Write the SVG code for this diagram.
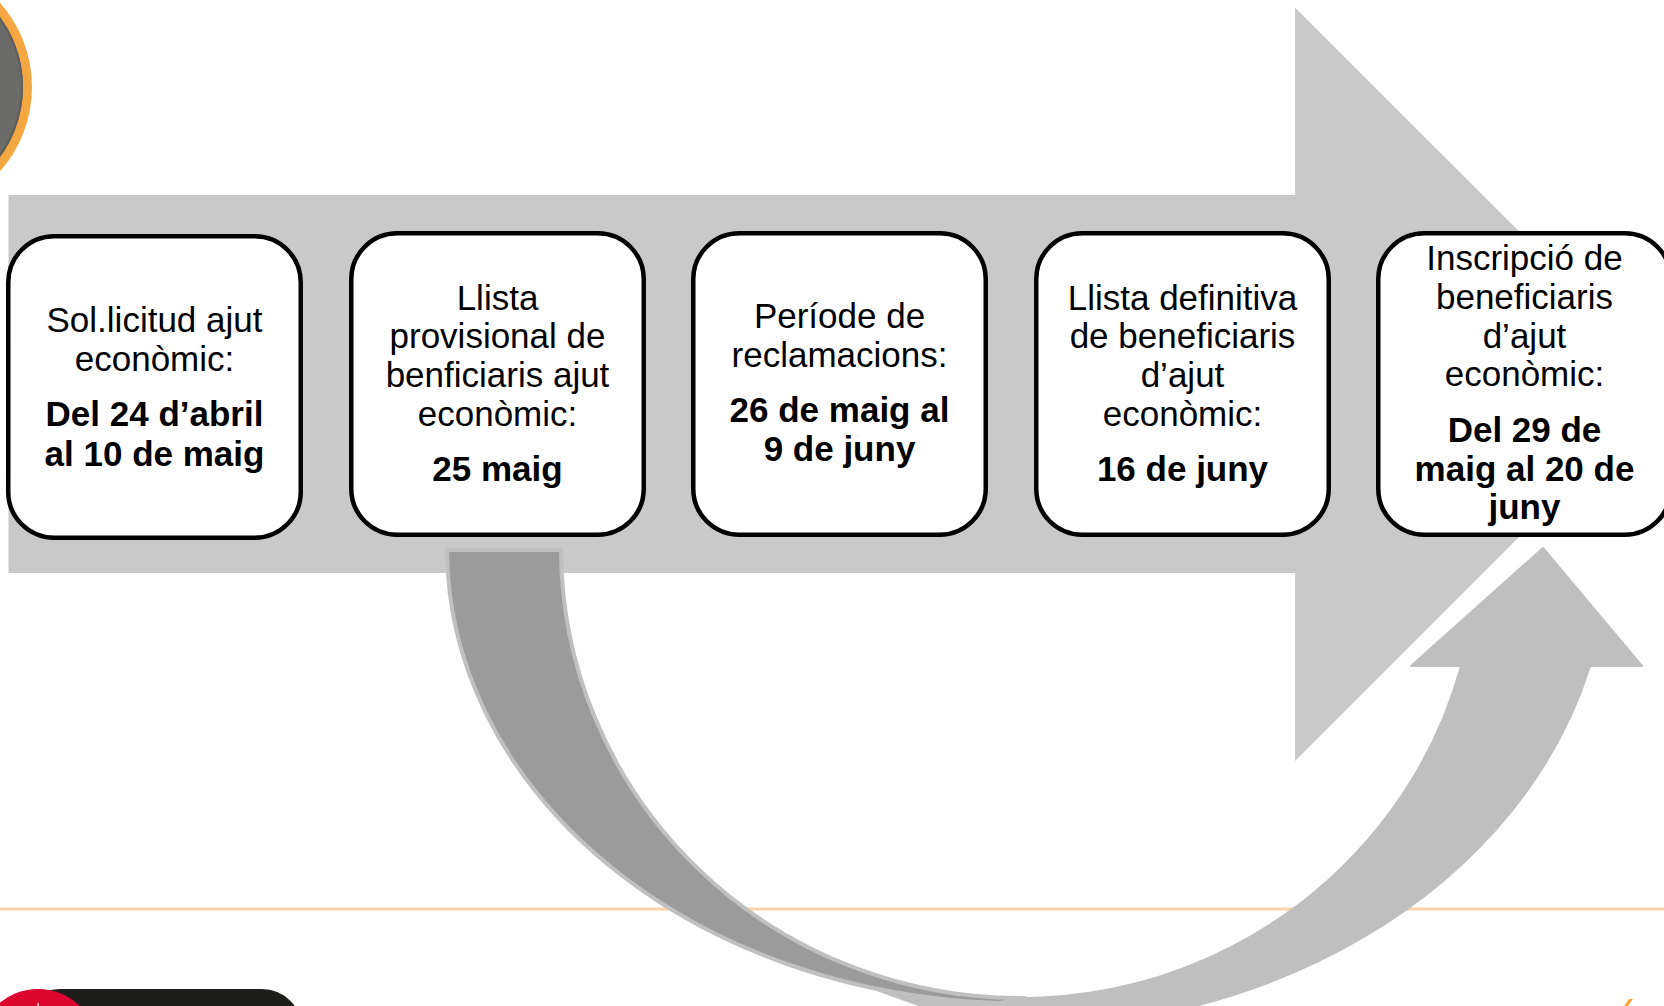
<svg xmlns="http://www.w3.org/2000/svg" width="1664" height="1006" viewBox="0 0 1664 1006">
<style>
.box{fill:#ffffff;stroke:#000000;stroke-width:4.5}
.t{font-family:"Liberation Sans",Arial,sans-serif;font-size:35px;fill:#000000;text-anchor:middle}
.b{font-weight:700}
</style>
<rect x="0" y="0" width="1664" height="1006" fill="#ffffff"/>
<g id="logo-circle">
<circle cx="-95" cy="87" r="122.5" fill="#6b6b69" stroke="#f5a742" stroke-width="9"/>
<circle cx="-95" cy="87" r="117" fill="none" stroke="#5e5e5c" stroke-width="2"/>
</g>
<g id="timeline-arrow">
<polygon points="8.5,195 1295,195 1295,7.5 1672,384 1295,761 1295,573 8.5,573" fill="#c9c9c9"/>
</g>
<line x1="0" y1="909" x2="1664" y2="909" stroke="#fbd3a6" stroke-width="3"/>
<g id="connectors">
<path id="return-arrow" d="M 860 969.5 A 457 450 0 0 0 1461 666 L 1411 666 L 1543 548 L 1642 666 L 1590 666 A 590 480 0 0 1 980 1027 L 860 984 Z" fill="#bfbfbf" stroke="#bfbfbf" stroke-width="2" stroke-linejoin="round"/>
<path id="down-arrow" d="M 447 550 A 573 455 0 0 0 1000 1003 L 1025 998 A 459 450 0 0 1 561 550 Z" fill="#9b9b9b" stroke="#c0c0c0" stroke-width="4" stroke-linejoin="round"/>
</g>
<g id="node1">
<rect class="box" x="8.25" y="236.25" width="292.5" height="301.5" rx="46"/>
<text class="t" x="154.5" y="332">Sol.licitud ajut</text>
<text class="t" x="154.5" y="370.5">econòmic:</text>
<text class="t b" x="154.5" y="425.6">Del 24 d’abril</text>
<text class="t b" x="154.5" y="466">al 10 de maig</text>
</g>
<g id="node2">
<rect class="box" x="351.25" y="233.25" width="292.5" height="301.5" rx="46"/>
<text class="t" x="497.5" y="310">Llista</text>
<text class="t" x="497.5" y="348">provisional de</text>
<text class="t" x="497.5" y="386.5">benficiaris ajut</text>
<text class="t" x="497.5" y="425.6">econòmic:</text>
<text class="t b" x="497.5" y="481.4">25 maig</text>
</g>
<g id="node3">
<rect class="box" x="693.25" y="233.25" width="292.5" height="301.5" rx="46"/>
<text class="t" x="839.5" y="328">Període de</text>
<text class="t" x="839.5" y="367">reclamacions:</text>
<text class="t b" x="839.5" y="422">26 de maig al</text>
<text class="t b" x="839.5" y="461">9 de juny</text>
</g>
<g id="node4">
<rect class="box" x="1036.25" y="233.25" width="292.5" height="301.5" rx="46"/>
<text class="t" x="1182.5" y="310">Llista definitiva</text>
<text class="t" x="1182.5" y="348">de beneficiaris</text>
<text class="t" x="1182.5" y="386.5">d’ajut</text>
<text class="t" x="1182.5" y="425.6">econòmic:</text>
<text class="t b" x="1182.5" y="481.4">16 de juny</text>
</g>
<g id="node5">
<rect class="box" x="1378.25" y="233.25" width="292.5" height="301.5" rx="46"/>
<text class="t" x="1524.5" y="270">Inscripció de</text>
<text class="t" x="1524.5" y="309">beneficiaris</text>
<text class="t" x="1524.5" y="347.5">d’ajut</text>
<text class="t" x="1524.5" y="386">econòmic:</text>
<text class="t b" x="1524.5" y="442">Del 29 de</text>
<text class="t b" x="1524.5" y="481">maig al 20 de</text>
<text class="t b" x="1524.5" y="519">juny</text>
</g>
<g id="footer">
<rect x="20" y="989" width="282" height="80" rx="40" fill="#1d1d1b"/>
<circle cx="38" cy="1049" r="60" fill="#dc052f"/>
<rect x="37.5" y="1003" width="1.2" height="3" fill="#ffffff"/>
<polygon points="1629,999 1633,999 1628,1006 1624,1006" fill="#f7a941"/>
</g>
</svg>
